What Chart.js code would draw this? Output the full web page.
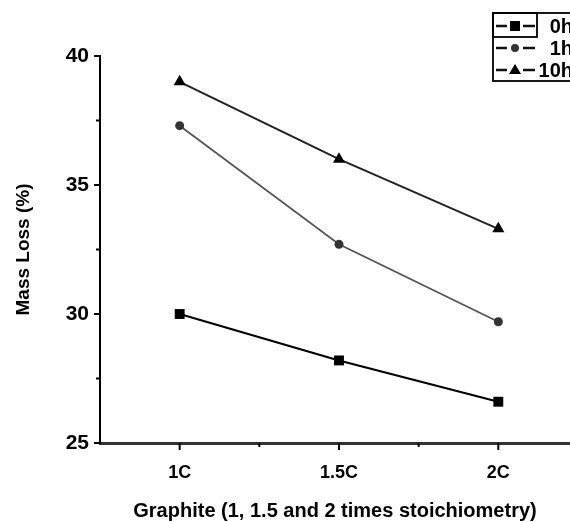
<!DOCTYPE html>
<html>
<head>
<meta charset="utf-8">
<script src="https://cdn.jsdelivr.net/npm/chart.js@4/dist/chart.umd.min.js"></script>
<style>
  html, body { margin: 0; padding: 0; background: #fff; }
  #wrap { width: 570px; height: 522px; }
</style>
</head>
<body>
<div id="wrap"><canvas id="massChart"></canvas></div>
<script>
/* ===================== DATOS ===================== */
const categories = ['1C', '1.5C', '2C'];
const loss0h = [30.0, 28.2, 26.6];
const loss1h = [37.3, 32.7, 29.7];
const loss10h = [39.0, 36.0, 33.3];
const seriesNames = ['0h', '1h', '10h'];
const yTicks = [25, 30, 35, 40];

const FONT = 'Liberation Sans, Arial, sans-serif';

function toPoints(arr) {
  return arr.map((v, i) => ({ x: i, y: v }));
}

/* ===================== TICKS Y LEYENDA ===================== */
const ticksPlugin = {
  id: 'ticksPlugin',
  afterDraw(chart) {
    const c = chart.ctx;
    const xs = chart.scales.x, ys = chart.scales.y;
    const axisX = ys.right, axisY = xs.top;
    c.save();
    c.strokeStyle = '#000';
    c.lineWidth = 2;
    // y ticks
    for (let v = 25; v <= 40; v += 2.5) {
      const py = ys.getPixelForValue(v);
      const len = (v % 5 === 0) ? 6 : 4;
      c.beginPath(); c.moveTo(axisX - len, py); c.lineTo(axisX, py); c.stroke();
    }
    // x ticks
    for (let v = 0; v <= 2; v += 0.5) {
      const px = xs.getPixelForValue(v);
      const len = Number.isInteger(v) ? 7 : 4;
      c.beginPath(); c.moveTo(px, axisY); c.lineTo(px, axisY + len); c.stroke();
    }
    c.restore();

    // leyenda
    const lx = 493, ly = 13, rowH = 22;
    c.save();
    c.strokeStyle = '#000';
    c.lineWidth = 1.8;
    c.strokeRect(lx, ly, 90, 68);
    c.strokeRect(lx, ly, 44, 24);
    chart.data.datasets.forEach((ds, i) => {
      const cy = ly + 13 + i * rowH;
      const mx = lx + 22;
      c.strokeStyle = '#111';
      c.lineWidth = 2.5;
      c.beginPath();
      c.moveTo(lx + 3, cy); c.lineTo(mx - 8, cy);
      c.moveTo(mx + 8, cy); c.lineTo(lx + 42, cy);
      c.stroke();
      c.fillStyle = ds.pointBackgroundColor;
      c.beginPath();
      if (ds.pointStyle === 'rect') c.rect(mx - 5, cy - 5, 10, 10);
      else if (ds.pointStyle === 'circle') c.arc(mx, cy, 4, 0, Math.PI * 2);
      else { c.moveTo(mx, cy - 6); c.lineTo(mx + 6, cy + 4); c.lineTo(mx - 6, cy + 4); c.closePath(); }
      c.fill();
      c.fillStyle = '#000';
      c.font = 'bold 20px ' + FONT;
      c.textAlign = 'right';
      c.textBaseline = 'middle';
      c.fillText(seriesNames[i], 573, cy + 1);
    });
    c.restore();
  }
};

/* ===================== CHART ===================== */
document.addEventListener('DOMContentLoaded', () => {
  const ctx = document.getElementById('massChart');
  new Chart(ctx.getContext('2d'), {
    type: 'line',
    data: {
      datasets: [
        {
          label: seriesNames[0], data: toPoints(loss0h),
          borderColor: '#000', borderWidth: 2.2,
          pointStyle: 'rect', pointRadius: 7,
          pointBackgroundColor: '#000', pointBorderColor: '#000', pointBorderWidth: 0
        },
        {
          label: seriesNames[1], data: toPoints(loss1h),
          borderColor: '#555', borderWidth: 1.8,
          pointStyle: 'circle', pointRadius: 4.5,
          pointBackgroundColor: '#333', pointBorderColor: '#333', pointBorderWidth: 0
        },
        {
          label: seriesNames[2], data: toPoints(loss10h),
          borderColor: '#222', borderWidth: 2,
          pointStyle: 'triangle', pointRadius: 7,
          pointBackgroundColor: '#000', pointBorderColor: '#000', pointBorderWidth: 0
        }
      ]
    },
    options: {
      responsive: true,
      maintainAspectRatio: false,
      animation: false,
      layout: { autoPadding: false, padding: { top: 56, right: 0, bottom: 0, left: 0 } },
      plugins: { legend: { display: false }, tooltip: { enabled: false } },
      scales: {
        x: {
          type: 'linear', min: -0.5, max: 2.45,
          afterBuildTicks: s => { s.ticks = categories.map((c, i) => ({ value: i })); },
          afterFit: s => { s.height = 79; },
          grid: { display: false, drawTicks: false },
          border: { display: true, color: '#333', width: 3 },
          ticks: {
            padding: 19, color: '#000',
            font: { family: FONT, size: 18, weight: 'bold' },
            callback: v => categories[v] !== undefined ? categories[v] : ''
          },
          title: {
            display: true, text: 'Graphite (1, 1.5 and 2 times stoichiometry)',
            color: '#000', font: { family: FONT, size: 20, weight: 'bold' },
            padding: { top: 0, bottom: -1 }
          }
        },
        y: {
          min: 25, max: 40,
          afterBuildTicks: s => { s.ticks = yTicks.map(v => ({ value: v })); },
          afterFit: s => { s.width = 100; },
          grid: { display: false, drawTicks: false },
          border: { display: true, color: '#000', width: 2 },
          ticks: {
            padding: 11, color: '#000',
            font: { family: FONT, size: 21, weight: 'bold' }
          },
          title: {
            display: true, text: 'Mass Loss (%)',
            color: '#000', font: { family: FONT, size: 19, weight: 'bold' },
            padding: { top: 12, bottom: 0 }
          }
        }
      }
    },
    plugins: [ticksPlugin]
  });
});
</script>
</body>
</html>
